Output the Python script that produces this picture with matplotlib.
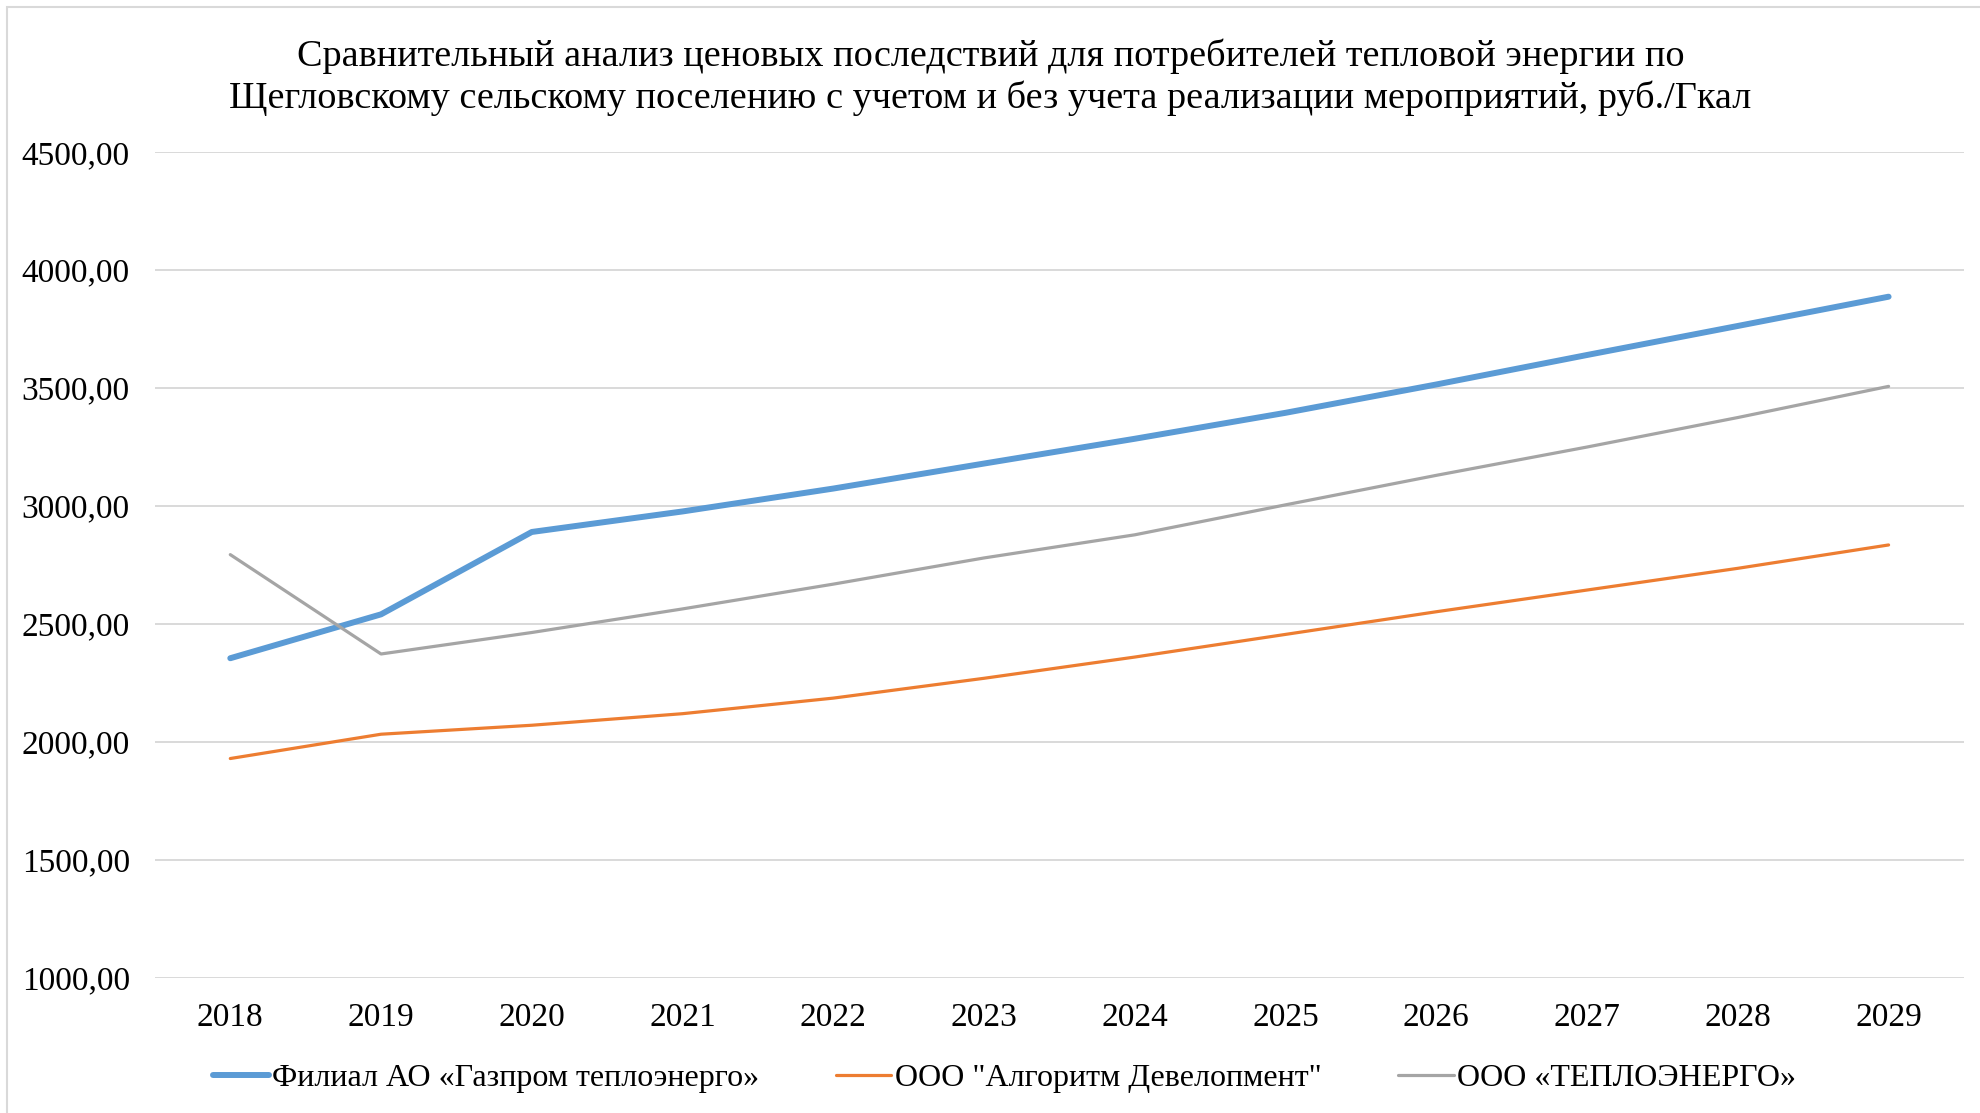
import matplotlib
matplotlib.use("Agg")
import matplotlib.pyplot as plt
from matplotlib.patches import Rectangle

# ── data ─────────────────────────────────────────────────────────────────────
years = ["2018", "2019", "2020", "2021", "2022", "2023",
         "2024", "2025", "2026", "2027", "2028", "2029"]
gazprom = [2355, 2541, 2890, 2977, 3074, 3180, 3285, 3395, 3515, 3640, 3763, 3887]
algoritm = [1930, 2033, 2071, 2120, 2186, 2270, 2360, 2456, 2552, 2644, 2736, 2835]
teploenergo = [2794, 2373, 2464, 2564, 2669, 2780, 2878, 3005, 3130, 3250, 3375, 3507]
y_ticks = [1000, 1500, 2000, 2500, 3000, 3500, 4000, 4500]

names = ["Филиал АО «Газпром теплоэнерго»",
         'ООО "Алгоритм Девелопмент"',
         "ООО «ТЕПЛОЭНЕРГО»"]
title = ("Сравнительный анализ ценовых последствий для потребителей тепловой энергии по\n"
         "Щегловскому сельскому поселению с учетом и без учета реализации мероприятий, руб./Гкал")

plt.rcParams["font.family"] = ["Liberation Serif", "DejaVu Serif"]

fig = plt.figure(figsize=(19.81, 11.13), dpi=100)
ax = fig.add_axes([0.0782, 0.1213, 0.9132, 0.7421])

x = list(range(len(years)))
ax.plot(x, gazprom, color="#5B9BD5", lw=4.3, solid_capstyle="round", label=names[0], zorder=3)
ax.plot(x, algoritm, color="#ED7D31", lw=2.3, solid_capstyle="round", label=names[1], zorder=3)
ax.plot(x, teploenergo, color="#A5A5A5", lw=2.3, solid_capstyle="round", label=names[2], zorder=3)

ax.set_xlim(-0.5, len(years) - 0.5)
ax.set_ylim(1000, 4500)
ax.set_xticks(x)
ax.set_xticklabels(years)
ax.set_yticks(y_ticks)
ax.set_yticklabels([f"{v},00" for v in y_ticks])
ax.tick_params(length=0, labelsize=24, pad=18)
ax.grid(axis="y", color="#D9D9D9", lw=1.4)
ax.set_axisbelow(True)
for s in ax.spines.values():
    s.set_visible(False)

fig.text(0.5, 0.9305, title, ha="center", va="center", fontsize=27.5, linespacing=1.22)

fig.legend(loc="center", bbox_to_anchor=(0.507, 0.031), ncol=3, frameon=False,
           fontsize=23, handlelength=1.75, handletextpad=0.1, columnspacing=2.4)

# light chart-area border
fig.patches.append(Rectangle((7 / 1981, -0.01), 1.02, 1.01 - 7 / 1113,
                             transform=fig.transFigure, fill=False,
                             edgecolor="#D9D9D9", lw=1.5))

fig.savefig("out.png", dpi=100)
